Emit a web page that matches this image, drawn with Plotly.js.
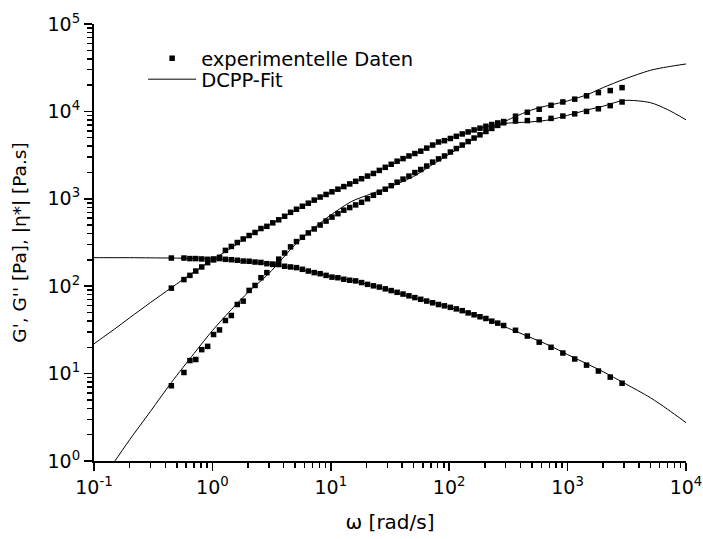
<!DOCTYPE html>
<html>
<head>
<meta charset="utf-8">
<script src="https://cdn.plot.ly/plotly-3.0.1.min.js"></script>
<style>html,body{margin:0;padding:0;background:#fff;}#chart{width:703px;height:539px;}</style>
</head>
<body>
<div id="chart"></div>
<script>
// Measured angular frequencies (rad/s)
const omega = [0.45, 0.575, 0.646, 0.724, 0.813, 0.912, 1.023, 1.148, 1.288, 1.445, 1.622, 1.82, 2.042, 2.291, 2.57, 2.884, 3.236, 3.631, 4.074, 4.571, 5.129, 5.754, 6.457, 7.244, 8.128, 9.12, 10.23, 11.48, 12.88, 14.45, 16.22, 18.2, 20.42, 22.91, 25.7, 28.84, 32.36, 36.31, 40.74, 45.71, 51.29, 57.54, 64.57, 72.44, 81.28, 91.2, 102.3, 114.8, 128.8, 144.5, 162.2, 182, 204.2, 229.1, 257, 288.4, 363.1, 457.1, 575.4, 724.4, 912, 1148, 1445, 1820, 2291, 2884];
// Storage modulus G' (Pa)
const gPrime = [7.26, 10.3, 14.1, 14.5, 18.8, 20.5, 28, 31.6, 40.5, 46.2, 61.8, 67.5, 89.5, 102, 125, 143, 178, 204, 240, 282, 324, 363, 407, 452, 501, 556, 617, 676, 741, 794, 851, 912, 1000, 1096, 1189, 1288, 1413, 1549, 1679, 1820, 1995, 2163, 2371, 2630, 2864, 3090, 3428, 3758, 4121, 4519, 4955, 5395, 5888, 6383, 6918, 7413, 8810, 9772, 10590, 11750, 12820, 13800, 15070, 16410, 17300, 18710];
// Loss modulus G'' (Pa)
const gDoublePrime = [95, 119, 133, 149, 166, 186, 200, 214, 257, 285, 316, 347, 380, 412, 457, 484, 531, 575, 631, 700, 759, 822, 891, 966, 1047, 1122, 1202, 1288, 1380, 1479, 1585, 1698, 1820, 1950, 2113, 2291, 2483, 2692, 2884, 3090, 3296, 3508, 3802, 4121, 4467, 4624, 4898, 5188, 5521, 5821, 6138, 6427, 6761, 7079, 7379, 7656, 7762, 7852, 8035, 8318, 8851, 9376, 10000, 10720, 11640, 12820];
// Complex viscosity |eta*| (Pa.s)
const etaStar = [210, 210, 207, 207, 205, 203, 205, 207, 203, 201, 198, 194, 193, 189, 187, 181, 178, 177, 169, 166, 163, 156, 149, 143, 139, 133, 127, 125, 120, 117, 115, 110, 105, 101, 97.7, 93.3, 89.1, 85.1, 81.3, 77.6, 74.1, 70.8, 67.6, 64.6, 61.7, 59.6, 57.3, 55, 52.5, 49.5, 47.1, 44.7, 42.7, 39.8, 37.8, 35.5, 31.3, 26.9, 22.9, 20, 17.2, 14.7, 12.5, 10.7, 9.12, 7.76];

// DCPP fit curves
const fitOmega = [0.1, 0.12, 0.15, 0.2, 0.3, 0.45, 0.7, 1, 1.5, 2, 3, 5, 7, 10, 15, 20, 30, 50, 70, 100, 150, 200, 300, 500, 700, 1000, 1500, 2000, 3000, 5000, 7000, 10000];
const fitGPrime = [0.469, 0.663, 1.0, 1.75, 3.7, 7.9, 17, 31, 57, 85, 140, 299, 447, 653, 933, 1090, 1330, 1800, 2399, 3236, 4571, 5754, 7762, 10420, 11750, 13180, 15740, 18750, 23330, 29510, 32360, 34900];
const fitGDoublePrime = [21.9, 26.2, 32.5, 43.5, 65, 96, 146, 200, 283, 370, 500, 735, 930, 1180, 1500, 1790, 2330, 3230, 4000, 4850, 5850, 6600, 7300, 7600, 8000, 9020, 10470, 11480, 13340, 12590, 10470, 8010];
const fitEtaStar = [212, 212, 212, 212, 211, 210, 208, 205, 198, 191, 179, 160, 145, 129, 116, 106, 91, 73, 66, 57.5, 48.5, 43, 34, 25.5, 21, 16.5, 12.7, 10.5, 7.8, 5.3, 3.9, 2.75];

const xTickVals = [0.1, 1, 10, 100, 1000, 10000];
const xTickText = ['10<sup>-1</sup>', '10<sup>0</sup>', '10<sup>1</sup>', '10<sup>2</sup>', '10<sup>3</sup>', '10<sup>4</sup>'];
const yTickVals = [1, 10, 100, 1000, 10000, 100000];
const yTickText = ['10<sup>0</sup>', '10<sup>1</sup>', '10<sup>2</sup>', '10<sup>3</sup>', '10<sup>4</sup>', '10<sup>5</sup>'];

function minorVals(lo, hi) {
  const v = [];
  for (let e = lo; e < hi; e++) for (let m = 2; m <= 9; m++) v.push(m * Math.pow(10, e));
  return v;
}

const FONT = 'DejaVu Sans, Verdana, sans-serif';
const mk = {symbol: 'square', size: 5.5, color: '#000'};
const ln = {color: '#000', width: 1, shape: 'spline', smoothing: 0.8};

const traces = [
  {x: omega, y: gPrime, mode: 'markers', marker: mk, name: 'experimentelle Daten', legendgroup: 'd', showlegend: true, legend: 'legend'},
  {x: omega, y: gDoublePrime, mode: 'markers', marker: mk, legendgroup: 'd', showlegend: false},
  {x: omega, y: etaStar, mode: 'markers', marker: mk, legendgroup: 'd', showlegend: false},
  {x: fitOmega, y: fitGPrime, mode: 'lines', line: ln, name: 'DCPP-Fit', legendgroup: 'f', showlegend: true, legend: 'legend2'},
  {x: fitOmega, y: fitGDoublePrime, mode: 'lines', line: ln, legendgroup: 'f', showlegend: false},
  {x: fitOmega, y: fitEtaStar, mode: 'lines', line: ln, legendgroup: 'f', showlegend: false}
];

const axisCommon = {
  type: 'log', showgrid: false, zeroline: false, showline: true, linecolor: '#000', linewidth: 2,
  ticks: 'outside', ticklen: 8, tickwidth: 1.5, tickcolor: '#000', tickmode: 'array',
  tickfont: {family: FONT, size: 19, color: '#000'}, mirror: false
};

const legendCommon = {
  font: {family: FONT, size: 19.5, color: '#000'}, bgcolor: 'rgba(0,0,0,0)', borderwidth: 0,
  xanchor: 'left', yanchor: 'middle', itemwidth: 48, x: 0.083
};

const layout = {
  width: 703, height: 539,
  margin: {l: 94, r: 17, t: 24, b: 78},
  paper_bgcolor: '#fff', plot_bgcolor: '#fff',
  showlegend: true,
  font: {family: FONT, color: '#000'},
  xaxis: Object.assign({}, axisCommon, {
    range: [-1, 4], tickvals: xTickVals, ticktext: xTickText,
    minor: {tickvals: minorVals(-1, 4), ticks: 'outside', ticklen: 5, tickwidth: 1.5, tickcolor: '#000', showgrid: false},
    title: {text: 'ω [rad/s]', font: {family: FONT, size: 20, color: '#000'}, standoff: 18}
  }),
  yaxis: Object.assign({}, axisCommon, {
    range: [0, 5], tickvals: yTickVals, ticktext: yTickText,
    minor: {tickvals: minorVals(0, 5), ticks: 'outside', ticklen: 5, tickwidth: 1.5, tickcolor: '#000', showgrid: false},
    title: {text: "G', G'' [Pa], |η*| [Pa.s]", font: {family: FONT, size: 18.5, color: '#000'}, standoff: 16}
  }),
  legend: Object.assign({}, legendCommon, {y: 0.921}),
  legend2: Object.assign({}, legendCommon, {y: 0.873})
};

Plotly.newPlot('chart', traces, layout, {displayModeBar: false, staticPlot: true});
</script>
</body>
</html>
